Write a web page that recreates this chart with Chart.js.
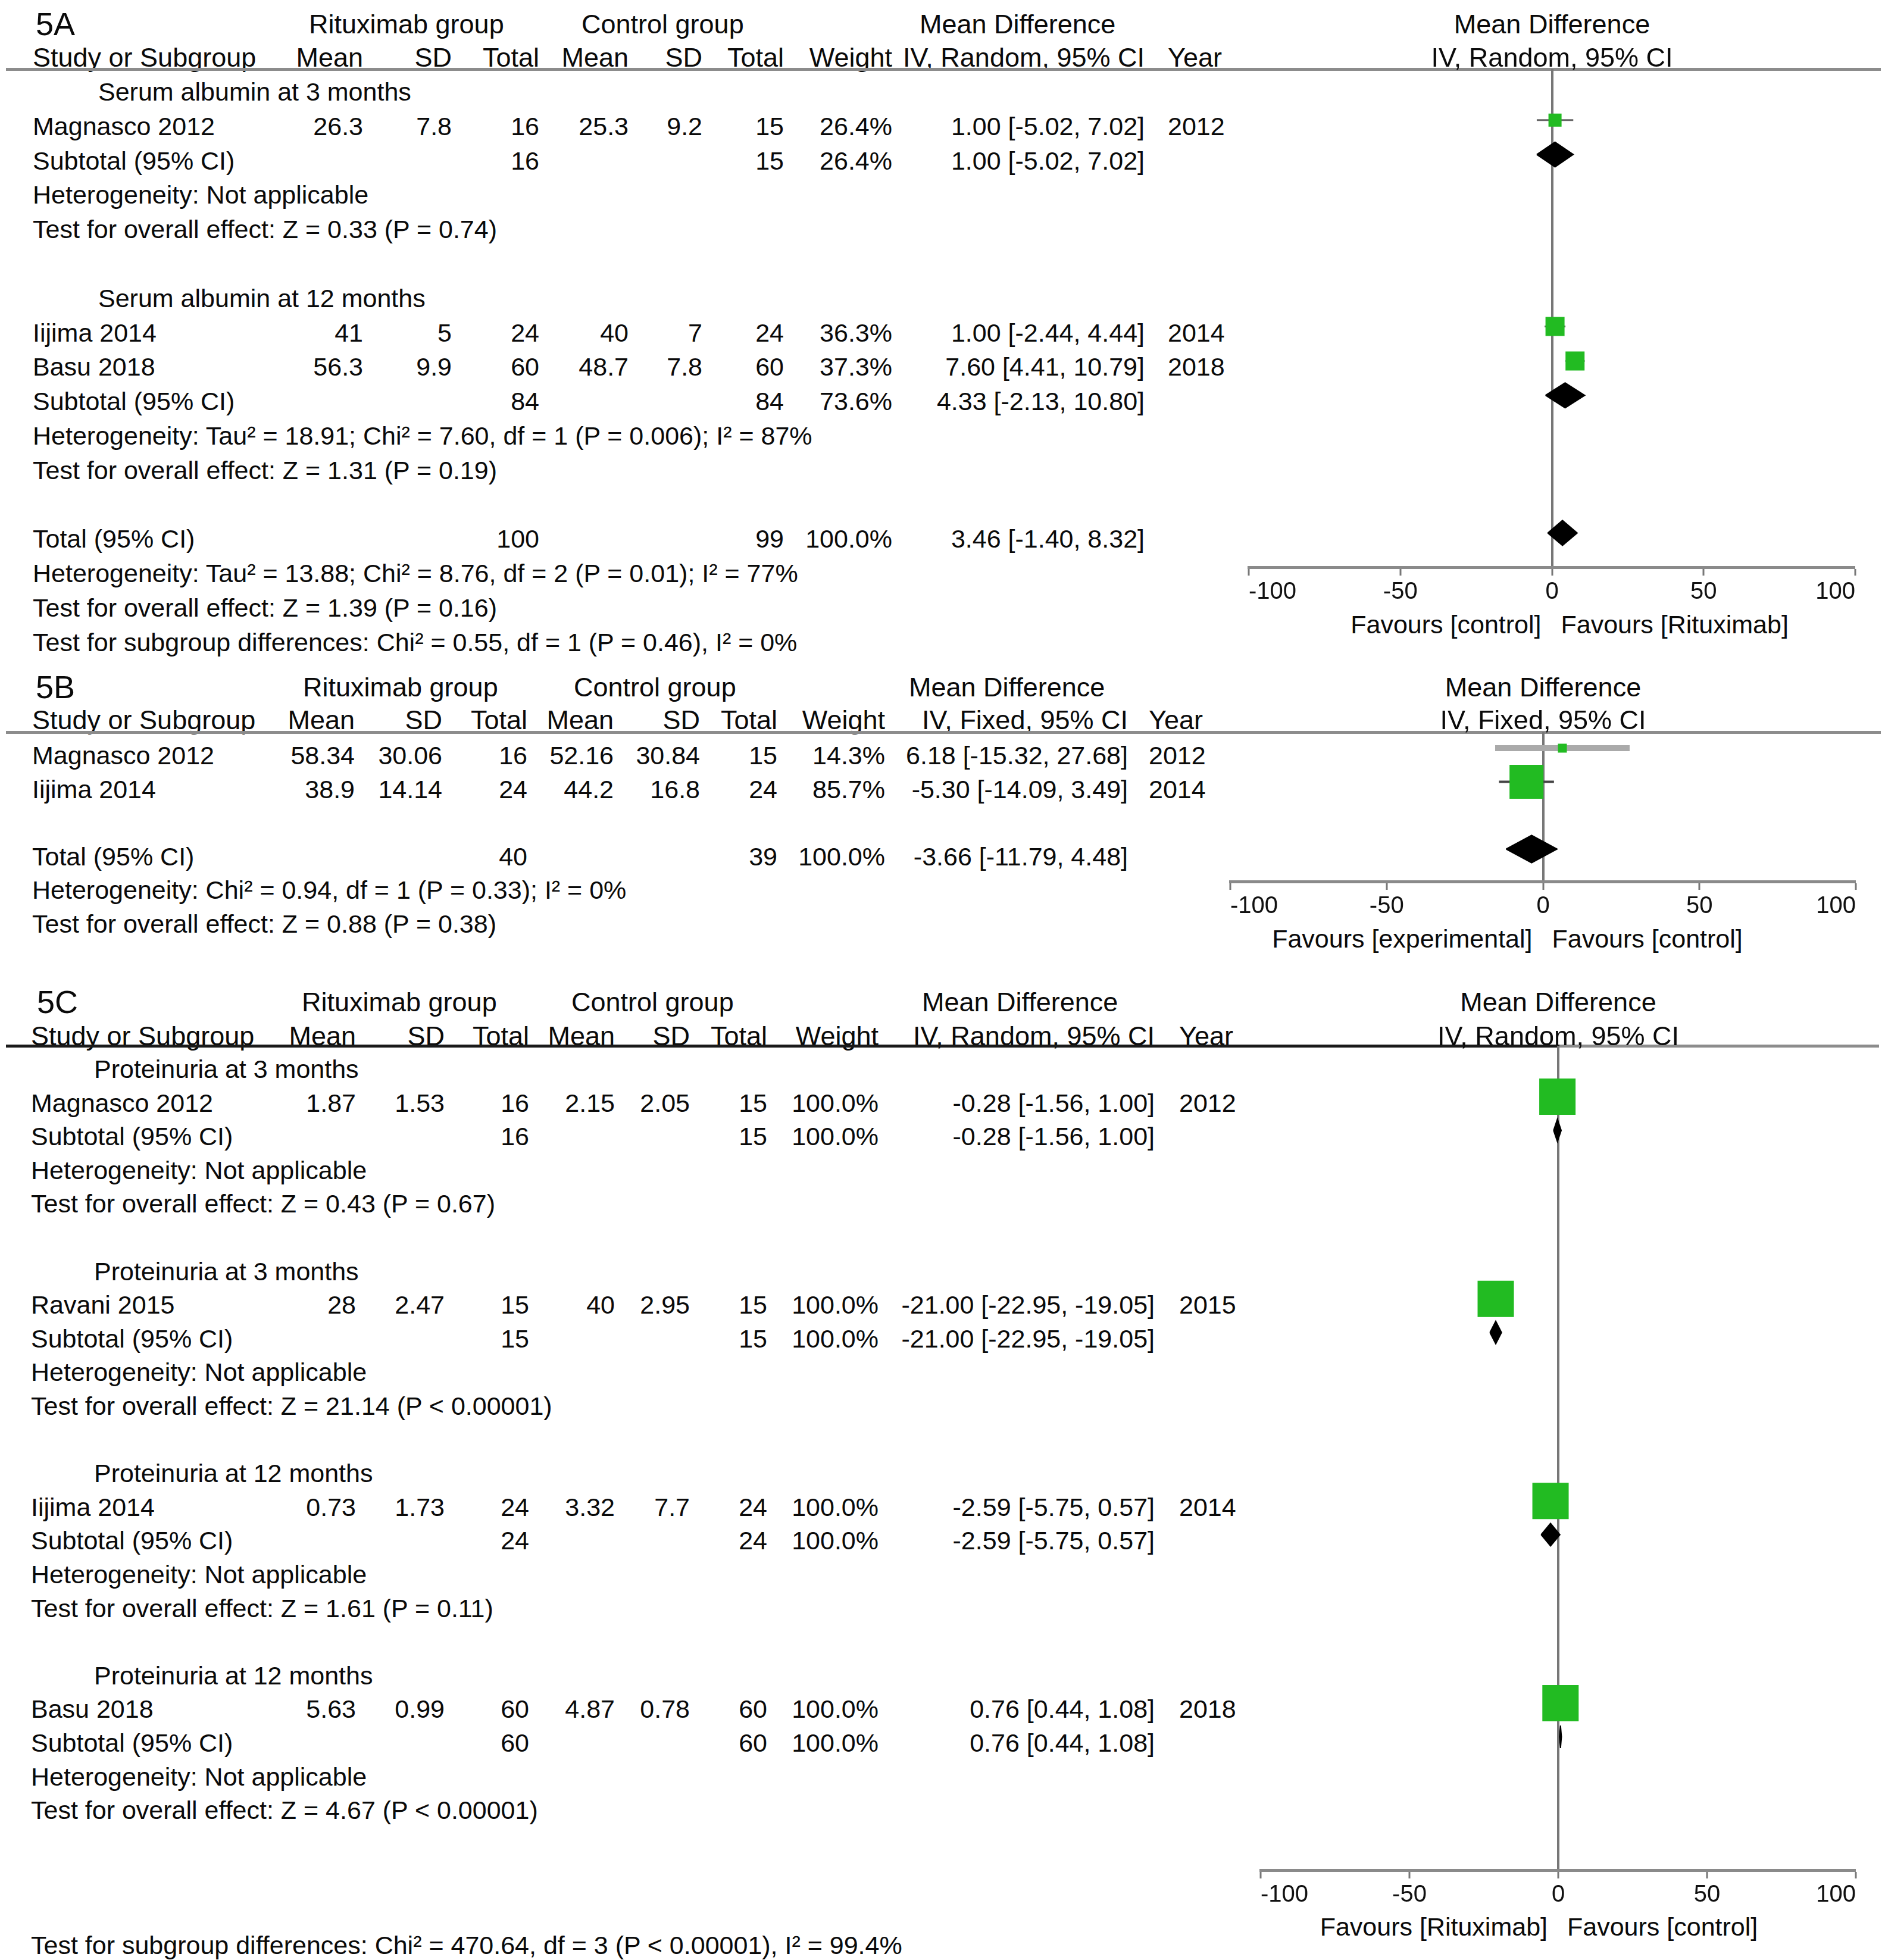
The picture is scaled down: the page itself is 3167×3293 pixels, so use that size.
<!DOCTYPE html>
<html>
<head>
<meta charset="utf-8">
<script src="https://cdn.jsdelivr.net/npm/chart.js@4.4.1/dist/chart.umd.min.js"></script>
<style>
  html, body { margin: 0; padding: 0; background: #fff; }
  #page { position: relative; width: 3167px; height: 3293px; overflow: hidden;
          font-family: "Liberation Sans", Arial, sans-serif; color: #0a0a0a; }
  .t { position: absolute; white-space: nowrap; font-size: 43px; line-height: 1; transform: translateY(-50%); }
  .t.r { transform: translate(-100%, -50%); }
  .t.c { transform: translate(-50%, -50%); }
  .t.h { font-size: 45px; }
  .t.lbl { font-size: 54px; }
  .rule { position: absolute; height: 5px; }
  canvas { position: absolute; }
</style>
</head>
<body>
<div id="page"></div>
<script>
// ---------- shared ----------
const mdTicks = [-100, -50, 0, 50, 100];
const colHead = ['Mean', 'SD', 'Total', 'Mean', 'SD', 'Total', 'Weight'];
const groupHead = ['Rituximab group', 'Control group', 'Mean Difference'];

// ---------- 5A serum albumin ----------
const aMethod = 'IV, Random, 95% CI';
const aGroups = ['Serum albumin at 3 months', 'Serum albumin at 12 months'];
const aStudy = ['Magnasco 2012', 'Iijima 2014', 'Basu 2018'];
const aGroupOf = [0, 1, 1];
const aRitMean = [26.3, 41, 56.3];
const aRitSD = [7.8, 5, 9.9];
const aRitN = [16, 24, 60];
const aCtlMean = [25.3, 40, 48.7];
const aCtlSD = [9.2, 7, 7.8];
const aCtlN = [15, 24, 60];
const aWeight = [26.4, 36.3, 37.3];
const aMD = [1.00, 1.00, 7.60];
const aLow = [-5.02, -2.44, 4.41];
const aHigh = [7.02, 4.44, 10.79];
const aYear = [2012, 2014, 2018];
const aSubRitN = [16, 84];
const aSubCtlN = [15, 84];
const aSubWeight = [26.4, 73.6];
const aSubMD = [1.00, 4.33];
const aSubLow = [-5.02, -2.13];
const aSubHigh = [7.02, 10.80];
const aSubHet = ['Heterogeneity: Not applicable',
  'Heterogeneity: Tau² = 18.91; Chi² = 7.60, df = 1 (P = 0.006); I² = 87%'];
const aSubTest = ['Test for overall effect: Z = 0.33 (P = 0.74)',
  'Test for overall effect: Z = 1.31 (P = 0.19)'];
const aTotalN = [100, 99];
const aTotal = [3.46, -1.40, 8.32]; // MD, low, high
const aFoot = ['Heterogeneity: Tau² = 13.88; Chi² = 8.76, df = 2 (P = 0.01); I² = 77%',
  'Test for overall effect: Z = 1.39 (P = 0.16)',
  'Test for subgroup differences: Chi² = 0.55, df = 1 (P = 0.46), I² = 0%'];
const aFavours = ['Favours [control]', 'Favours [Rituximab]'];

// ---------- 5B ----------
const bMethod = 'IV, Fixed, 95% CI';
const bStudy = ['Magnasco 2012', 'Iijima 2014'];
const bRitMean = [58.34, 38.9];
const bRitSD = [30.06, 14.14];
const bRitN = [16, 24];
const bCtlMean = [52.16, 44.2];
const bCtlSD = [30.84, 16.8];
const bCtlN = [15, 24];
const bWeight = [14.3, 85.7];
const bMD = [6.18, -5.30];
const bLow = [-15.32, -14.09];
const bHigh = [27.68, 3.49];
const bYear = [2012, 2014];
const bTotalN = [40, 39];
const bTotal = [-3.66, -11.79, 4.48];
const bFoot = ['Heterogeneity: Chi² = 0.94, df = 1 (P = 0.33); I² = 0%',
  'Test for overall effect: Z = 0.88 (P = 0.38)'];
const bFavours = ['Favours [experimental]', 'Favours [control]'];

// ---------- 5C proteinuria ----------
const cMethod = 'IV, Random, 95% CI';
const cGroups = ['Proteinuria at 3 months', 'Proteinuria at 3 months',
  'Proteinuria at 12 months', 'Proteinuria at 12 months'];
const cStudy = ['Magnasco 2012', 'Ravani 2015', 'Iijima 2014', 'Basu 2018'];
const cGroupOf = [0, 1, 2, 3];
const cRitMean = [1.87, 28, 0.73, 5.63];
const cRitSD = [1.53, 2.47, 1.73, 0.99];
const cRitN = [16, 15, 24, 60];
const cCtlMean = [2.15, 40, 3.32, 4.87];
const cCtlSD = [2.05, 2.95, 7.7, 0.78];
const cCtlN = [15, 15, 24, 60];
const cWeight = [100, 100, 100, 100];
const cMD = [-0.28, -21.00, -2.59, 0.76];
const cLow = [-1.56, -22.95, -5.75, 0.44];
const cHigh = [1.00, -19.05, 0.57, 1.08];
const cYear = [2012, 2015, 2014, 2018];
const cSubRitN = [16, 15, 24, 60];
const cSubCtlN = [15, 15, 24, 60];
const cSubWeight = [100, 100, 100, 100];
const cSubMD = [-0.28, -21.00, -2.59, 0.76];
const cSubLow = [-1.56, -22.95, -5.75, 0.44];
const cSubHigh = [1.00, -19.05, 0.57, 1.08];
const cSubHet = ['Heterogeneity: Not applicable', 'Heterogeneity: Not applicable',
  'Heterogeneity: Not applicable', 'Heterogeneity: Not applicable'];
const cSubTest = ['Test for overall effect: Z = 0.43 (P = 0.67)',
  'Test for overall effect: Z = 21.14 (P < 0.00001)',
  'Test for overall effect: Z = 1.61 (P = 0.11)',
  'Test for overall effect: Z = 4.67 (P < 0.00001)'];
const cFoot = ['Test for subgroup differences: Chi² = 470.64, df = 3 (P < 0.00001), I² = 99.4%'];
const cFavours = ['Favours [Rituximab]', 'Favours [control]'];

// ---------- layout (positions / sizes / styles) ----------
const GREEN = '#22bb22';
const TICK_FONT = 40, TICK_LEN = 14, TICK_PAD = 4;
const AXIS_H = TICK_LEN + 2 * TICK_PAD + TICK_FONT * 1.2;

const layoutA = {
  label: '5A', labelX: 60, head1Y: 40, head2Y: 96, ruleY: 116, rules: [[10, 3160, '#8c8c8c']],
  ritX: 519, ctlX: 977, mdX: 1545, nameX: 55, groupX: 165,
  cols: [610, 759, 906, 1056, 1180, 1317, 1499, 1923], yearX: 1962,
  rowY0: 154, rowH: 57.8, markOff: 10, footSkip: 0,
  plotL: 2094, plotR: 3121, axisY: 953, favY: 1049,
  box: [22, 32, 32], ciColor: ['#666', '#666', '#666'], ciWidth: [3, 3, 3], diamondHalf: 21
};
const layoutB = {
  label: '5B', labelX: 60, head1Y: 1154, head2Y: 1209, ruleY: 1230, rules: [[10, 3160, '#8c8c8c']],
  ritX: 509, ctlX: 964, mdX: 1527, nameX: 54, groupX: 160,
  cols: [596, 743, 886, 1031, 1176, 1306, 1487, 1895], yearX: 1930,
  rowY0: 1269, rowH: 56.5, markOff: 12, footSkip: 0,
  plotL: 2063, plotR: 3122, axisY: 1481, favY: 1577,
  box: [15, 57], ciColor: ['#aaaaaa', '#444'], ciWidth: [10, 4], diamondHalf: 23
};
const layoutC = {
  label: '5C', labelX: 62, head1Y: 1683, head2Y: 1740, ruleY: 1757,
  rules: [[10, 2620, '#1a1a1a'], [2620, 3157, '#8c8c8c']],
  ritX: 507, ctlX: 960, mdX: 1549, nameX: 52, groupX: 158,
  cols: [598, 747, 889, 1033, 1159, 1289, 1476, 1940], yearX: 1981,
  rowY0: 1796, rowH: 56.6, markOff: 10, footSkip: 2,
  plotL: 2114, plotR: 3122, axisY: 3142, favY: 3237,
  box: [61, 61, 61, 61], ciColor: ['#444', '#444', '#444', '#444'], ciWidth: [4, 4, 4, 4], diamondHalf: 19
};

const page = document.getElementById('page');

function put(text, x, y, cls) {
  const el = document.createElement('div');
  el.className = 't ' + (cls || '');
  el.textContent = text;
  el.style.left = x + 'px';
  el.style.top = y + 'px';
  page.appendChild(el);
  return el;
}

function ci(md, lo, hi) {
  return md.toFixed(2) + ' [' + lo.toFixed(2) + ', ' + hi.toFixed(2) + ']';
}

function diamond(md, lo, hi, row, dh) {
  return {
    type: 'line',
    data: [{x: lo, y: row}, {x: md, y: row - dh}, {x: hi, y: row}, {x: md, y: row + dh}, {x: lo, y: row}],
    borderColor: '#000', borderWidth: 2, backgroundColor: '#000',
    fill: 'shape', pointRadius: 0, tension: 0, order: 1
  };
}

function panel(d, L) {
  put(L.label, L.labelX, L.head1Y, 'lbl');
  put(groupHead[0], L.ritX, L.head1Y, 'h');
  put(groupHead[1], L.ctlX, L.head1Y, 'h');
  put(groupHead[2], L.mdX, L.head1Y, 'h');
  put('Study or Subgroup', L.nameX, L.head2Y, 'h');
  colHead.concat([d.method]).forEach((t, k) => put(t, L.cols[k], L.head2Y, 'h r'));
  put('Year', L.yearX, L.head2Y, 'h');
  L.rules.forEach(rl => {
    const el = document.createElement('div');
    el.className = 'rule';
    el.style.left = rl[0] + 'px';
    el.style.width = (rl[1] - rl[0]) + 'px';
    el.style.top = (L.ruleY - 2.5) + 'px';
    el.style.background = rl[2];
    page.appendChild(el);
  });

  const rowY = r => L.rowY0 + r * L.rowH;
  let r = 0;
  const studyRow = [], subRow = [];
  let totalRow = null;

  function addStudy(i) {
    const y = rowY(r);
    put(d.study[i], L.nameX, y);
    [d.ritMean[i], d.ritSD[i], d.ritN[i], d.ctlMean[i], d.ctlSD[i], d.ctlN[i]]
      .forEach((v, k) => put(String(v), L.cols[k], y, 'r'));
    put(d.weight[i].toFixed(1) + '%', L.cols[6], y, 'r');
    put(ci(d.md[i], d.low[i], d.high[i]), L.cols[7], y, 'r');
    put(String(d.year[i]), L.yearX, y);
    studyRow[i] = r++;
  }

  if (d.groups) {
    d.groups.forEach((g, gi) => {
      put(g, L.groupX, rowY(r++));
      d.study.forEach((s, i) => { if (d.groupOf[i] === gi) addStudy(i); });
      const y = rowY(r);
      put('Subtotal (95% CI)', L.nameX, y);
      put(String(d.subRitN[gi]), L.cols[2], y, 'r');
      put(String(d.subCtlN[gi]), L.cols[5], y, 'r');
      put(d.subWeight[gi].toFixed(1) + '%', L.cols[6], y, 'r');
      put(ci(d.subMD[gi], d.subLow[gi], d.subHigh[gi]), L.cols[7], y, 'r');
      subRow[gi] = r++;
      put(d.subHet[gi], L.nameX, rowY(r++));
      put(d.subTest[gi], L.nameX, rowY(r++));
      r++;
    });
  } else {
    d.study.forEach((s, i) => addStudy(i));
    r++;
  }
  if (d.totalN) {
    const y = rowY(r);
    put('Total (95% CI)', L.nameX, y);
    put(String(d.totalN[0]), L.cols[2], y, 'r');
    put(String(d.totalN[1]), L.cols[5], y, 'r');
    put('100.0%', L.cols[6], y, 'r');
    put(ci(d.total[0], d.total[1], d.total[2]), L.cols[7], y, 'r');
    totalRow = r++;
  }
  r += L.footSkip;
  d.foot.forEach(t => put(t, L.nameX, rowY(r++)));

  // ---- forest plot ----
  const cv = document.createElement('canvas');
  cv.width = L.plotR - L.plotL;
  cv.height = L.axisY - L.ruleY + AXIS_H;
  cv.style.left = L.plotL + 'px';
  cv.style.top = L.ruleY + 'px';
  page.appendChild(cv);

  const y0 = L.rowY0 - L.markOff;
  const yMin = (L.ruleY - y0) / L.rowH;
  const yMax = (L.axisY - y0) / L.rowH;
  const dh = L.diamondHalf / L.rowH;

  const datasets = [];
  datasets.push({
    type: 'scatter',
    data: d.study.map((s, i) => ({x: d.md[i], y: studyRow[i]})),
    pointStyle: 'rect',
    pointRadius: L.box.map(b => b / Math.SQRT2),
    pointBackgroundColor: GREEN, pointBorderColor: GREEN, pointBorderWidth: 0,
    order: 0
  });
  d.study.forEach((s, i) => datasets.push({
    type: 'line',
    data: [{x: d.low[i], y: studyRow[i]}, {x: d.high[i], y: studyRow[i]}],
    borderColor: L.ciColor[i], borderWidth: L.ciWidth[i], pointRadius: 0, fill: false, order: 2
  }));
  if (d.groups) {
    d.groups.forEach((g, gi) => datasets.push(diamond(d.subMD[gi], d.subLow[gi], d.subHigh[gi], subRow[gi], dh)));
  }
  if (totalRow !== null) datasets.push(diamond(d.total[0], d.total[1], d.total[2], totalRow, dh));

  const chart = new Chart(cv, {
    type: 'scatter',
    data: {datasets: datasets},
    options: {
      responsive: false,
      animation: false,
      events: [],
      devicePixelRatio: 1,
      layout: {padding: 0, autoPadding: false},
      plugins: {legend: {display: false}, tooltip: {enabled: false}},
      scales: {
        x: {
          type: 'linear', position: 'bottom', min: mdTicks[0], max: mdTicks[mdTicks.length - 1],
          afterBuildTicks: s => { s.ticks = mdTicks.map(v => ({value: v})); },
          ticks: {
            align: 'inner', color: '#111', padding: TICK_PAD, maxRotation: 0, autoSkip: false,
            font: {family: 'Liberation Sans', size: TICK_FONT, lineHeight: 1.2}
          },
          grid: {
            color: c => (c.tick && c.tick.value === 0) ? '#777' : 'rgba(0,0,0,0)',
            lineWidth: c => (c.tick && c.tick.value === 0) ? 4 : 0,
            tickColor: '#777', tickWidth: 3, tickLength: TICK_LEN, drawTicks: true
          },
          border: {color: '#8a8a8a', width: 5}
        },
        y: {type: 'linear', reverse: true, min: yMin, max: yMax, display: false}
      }
    }
  });

  const zeroX = L.plotL + chart.scales.x.getPixelForValue(0);
  put(groupHead[2], zeroX, L.head1Y, 'h c');
  put(d.method, zeroX, L.head2Y, 'h c');
  put(d.favours[0], zeroX - 18, L.favY, 'r');
  put(d.favours[1], zeroX + 15, L.favY);
}

panel({
  method: aMethod, groups: aGroups, study: aStudy, groupOf: aGroupOf,
  ritMean: aRitMean, ritSD: aRitSD, ritN: aRitN, ctlMean: aCtlMean, ctlSD: aCtlSD, ctlN: aCtlN,
  weight: aWeight, md: aMD, low: aLow, high: aHigh, year: aYear,
  subRitN: aSubRitN, subCtlN: aSubCtlN, subWeight: aSubWeight, subMD: aSubMD, subLow: aSubLow, subHigh: aSubHigh,
  subHet: aSubHet, subTest: aSubTest, totalN: aTotalN, total: aTotal, foot: aFoot, favours: aFavours
}, layoutA);

panel({
  method: bMethod, groups: null, study: bStudy,
  ritMean: bRitMean, ritSD: bRitSD, ritN: bRitN, ctlMean: bCtlMean, ctlSD: bCtlSD, ctlN: bCtlN,
  weight: bWeight, md: bMD, low: bLow, high: bHigh, year: bYear,
  totalN: bTotalN, total: bTotal, foot: bFoot, favours: bFavours
}, layoutB);

panel({
  method: cMethod, groups: cGroups, study: cStudy, groupOf: cGroupOf,
  ritMean: cRitMean, ritSD: cRitSD, ritN: cRitN, ctlMean: cCtlMean, ctlSD: cCtlSD, ctlN: cCtlN,
  weight: cWeight, md: cMD, low: cLow, high: cHigh, year: cYear,
  subRitN: cSubRitN, subCtlN: cSubCtlN, subWeight: cSubWeight, subMD: cSubMD, subLow: cSubLow, subHigh: cSubHigh,
  subHet: cSubHet, subTest: cSubTest, totalN: null, foot: cFoot, favours: cFavours
}, layoutC);
</script>
</body>
</html>
